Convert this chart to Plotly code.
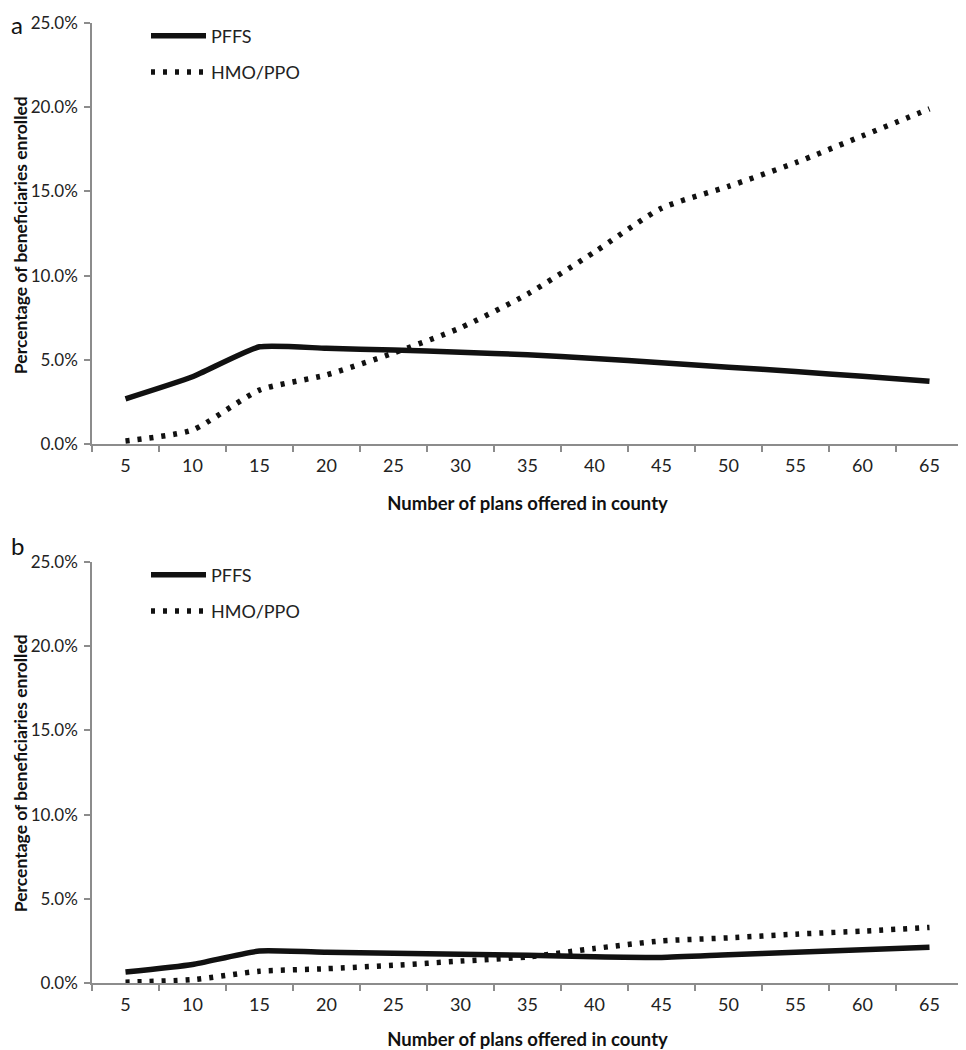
import plotly.graph_objects as go
from plotly.subplots import make_subplots

plans = ["5", "10", "15", "20", "25", "30", "35", "40", "45", "50", "55", "60", "65"]

# Panel a
pffs_a = [2.68, 3.99, 5.77, 5.68, 5.58, 5.45, 5.30, 5.08, 4.82, 4.56, 4.30, 4.02, 3.72]
hmo_a = [0.18, 0.83, 3.2, 4.1, 5.4, 6.9, 8.9, 11.4, 14.0, 15.3, 16.7, 18.3, 19.9]

# Panel b
pffs_b = [0.65, 1.1, 1.9, 1.82, 1.76, 1.70, 1.65, 1.56, 1.52, 1.68, 1.82, 1.98, 2.12]
hmo_b = [0.05, 0.2, 0.7, 0.85, 1.05, 1.3, 1.55, 2.05, 2.5, 2.68, 2.9, 3.08, 3.3]

y_ticks = [0, 5, 10, 15, 20, 25]
y_ticklabels = ["0.0%", "5.0%", "10.0%", "15.0%", "20.0%", "25.0%"]

x_title = "<b>Number of plans offered in county</b>"
y_title = "<b>Percentage of beneficiaries enrolled</b>"

FONT = "Lato, Open Sans, sans-serif"
AXIS_GRAY = "#8c8c8c"

fig = make_subplots(rows=2, cols=1, vertical_spacing=0.123)

def add_panel(row, pffs, hmo, legend):
    fig.add_trace(go.Scatter(x=plans, y=pffs, mode="lines", name="PFFS",
                             line=dict(color="#111111", width=5.5, shape="spline", smoothing=0.5),
                             legend=legend, legendgroup=f"p{row}"), row=row, col=1)
    fig.add_trace(go.Scatter(x=plans, y=hmo, mode="lines", name="HMO/PPO",
                             line=dict(color="#111111", width=5.5, dash="4px,8px", shape="spline", smoothing=0.6),
                             legend=legend, legendgroup=f"h{row}"), row=row, col=1)

add_panel(1, pffs_a, hmo_a, "legend")
add_panel(2, pffs_b, hmo_b, "legend2")

for r in (1, 2):
    fig.update_xaxes(type="category", tickson="boundaries", range=[-0.5, 12.5],
                     ticks="outside", ticklen=6, automargin=False, ticklabelstandoff=4,
                     tickcolor=AXIS_GRAY, tickwidth=1.5, showline=True, linecolor=AXIS_GRAY, linewidth=2,
                     showgrid=False, zeroline=False,
                     tickfont=dict(family=FONT, size=18, color="#222"),
                     title=dict(text=x_title, standoff=22,
                                font=dict(family=FONT, size=18.5, color="#111")),
                     row=r, col=1)
    fig.update_yaxes(range=[0, 25], tickvals=y_ticks, ticktext=y_ticklabels, ticks="outside", ticklen=6,
                     automargin=False, ticklabelstandoff=3,
                     tickcolor=AXIS_GRAY, tickwidth=1.5, showline=True, linecolor=AXIS_GRAY, linewidth=1.5,
                     showgrid=False, zeroline=False,
                     tickfont=dict(family=FONT, size=17, color="#222"),
                     row=r, col=1)

legend_common = dict(xanchor="left", yanchor="top", itemwidth=55,
                     bgcolor="rgba(0,0,0,0)", font=dict(family=FONT, size=18, color="#222"),
                     tracegroupgap=10)

ytitle_font = dict(family=FONT, size=17.5, color="#111")

fig.update_layout(
    width=958, height=1042,
    margin=dict(l=84, r=3, t=15, b=67),
    paper_bgcolor="white", plot_bgcolor="white",
    font=dict(family=FONT, size=18, color="#111"),
    legend=dict(x=0.062, y=1.0058, **legend_common),
    legend2=dict(x=0.062, y=0.4443, **legend_common),
    annotations=[
        dict(text="a", xref="paper", yref="paper", x=-0.0955, y=1.0156, xanchor="left", yanchor="top",
             showarrow=False, font=dict(family=FONT, size=24, color="#111")),
        dict(text="b", xref="paper", yref="paper", x=-0.0955, y=0.4724, xanchor="left", yanchor="top",
             showarrow=False, font=dict(family=FONT, size=24, color="#111")),
        dict(text=y_title, xref="paper", yref="paper", x=-0.0827, y=0.779, xanchor="center", yanchor="middle",
             textangle=-90, showarrow=False, font=ytitle_font),
        dict(text=y_title, xref="paper", yref="paper", x=-0.0827, y=0.2185, xanchor="center", yanchor="middle",
             textangle=-90, showarrow=False, font=ytitle_font),
    ],
)

fig.write_html("out.html")
